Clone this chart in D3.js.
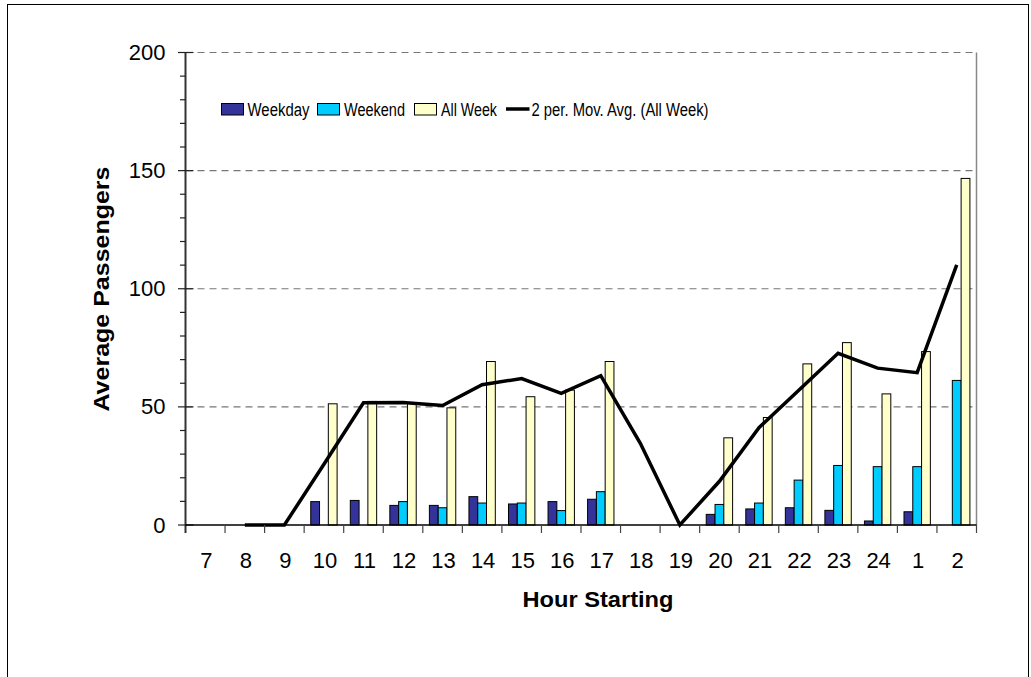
<!DOCTYPE html>
<html>
<head>
<meta charset="utf-8">
<script src="https://cdn.jsdelivr.net/npm/d3@7"></script>
<style>
  html, body { margin: 0; padding: 0; background: #fff; }
  svg { display: block; font-family: Arial, "Liberation Sans", sans-serif; }
</style>
</head>
<body>
<svg id="chart" width="1031" height="677"></svg>
<script>
const categories = ["7","8","9","10","11","12","13","14","15","16","17","18","19","20","21","22","23","24","1","2"];
const weekday = [null,null,null,9.9,10.4,8.3,8.3,12.0,8.9,9.9,10.9,null,null,4.5,6.8,7.3,6.2,1.7,5.6,null];
const weekend = [null,null,null,null,null,9.9,7.3,9.3,9.3,6.1,14.1,null,null,8.7,9.3,19.0,25.2,24.7,24.7,61.2];
const allWeek = [null,null,null,51.3,52.3,51.5,49.6,69.2,54.3,57.1,69.2,null,null,36.9,45.5,68.2,77.2,55.5,73.4,146.7];
const movAvg = [null,0,0,25.7,51.7,51.8,50.6,59.4,62.0,55.7,63.2,34.6,0,18.5,41.2,56.9,72.7,66.4,64.5,110.1];
const yTicks = [0,50,100,150,200];
const seriesNames = ["Weekday","Weekend","All Week"];
const seriesColors = ["#333399","#00CCFF","#FFFFCC"];
const lineLabel = "2 per. Mov. Avg. (All Week)";

(function () {
const svg = d3.select("#chart");

// outer chart border
svg.append("rect").attr("x",7.5).attr("y",4.5).attr("width",1021).attr("height",700)
  .attr("fill","none").attr("stroke","#000").attr("stroke-width",1);

const pLeft = 185.5, pRight = 976.5, pTop = 52.5, pBottom = 525;
const x = d3.scaleBand().domain(categories).range([pLeft, pRight]).padding(0);
const step = x.bandwidth();
const xs = d3.scaleBand().domain(seriesNames).range([step/6, step*5/6]).padding(0);
const y = d3.scaleLinear().domain([0,200]).range([pBottom, pTop]);

// gridlines
svg.append("g").selectAll("line").data(yTicks.filter(d => d > 0)).join("line")
  .attr("x1", pLeft).attr("x2", pRight)
  .attr("y1", d => y(d)).attr("y2", d => y(d))
  .attr("stroke","#777").attr("stroke-width",1.2).attr("stroke-dasharray","7,5");

// right plot border
svg.append("line").attr("x1",pRight).attr("x2",pRight).attr("y1",pTop).attr("y2",pBottom)
  .attr("stroke","#888").attr("stroke-width",1.5);

// bars
const seriesData = [weekday, weekend, allWeek];
seriesData.forEach((vals, si) => {
  svg.append("g").selectAll("rect")
    .data(vals.map((v,i) => ({v, c: categories[i]})).filter(d => d.v !== null))
    .join("rect")
    .attr("x", d => x(d.c) + xs(seriesNames[si]))
    .attr("width", xs.bandwidth())
    .attr("y", d => y(d.v))
    .attr("height", d => y(0) - y(d.v))
    .attr("fill", seriesColors[si])
    .attr("stroke","#000").attr("stroke-width",1);
});

// moving average line
const line = d3.line()
  .defined(d => d.v !== null)
  .x(d => x(d.c) + step/2)
  .y(d => y(d.v));
svg.append("path")
  .datum(movAvg.map((v,i) => ({v, c: categories[i]})))
  .attr("d", line)
  .attr("fill","none").attr("stroke","#000").attr("stroke-width",3.5)
  .attr("stroke-linejoin","miter");

// y axis
const yAxis = d3.axisLeft(y).tickValues(yTicks).tickSize(0).tickPadding(20);
const gy = svg.append("g").attr("transform",`translate(${pLeft},0)`).call(yAxis);
gy.select(".domain").remove();
gy.selectAll("text").attr("font-size",22).attr("font-family","Arial, 'Liberation Sans', sans-serif").attr("fill","#000");
svg.append("line").attr("x1",pLeft).attr("x2",pLeft).attr("y1",pTop).attr("y2",533)
  .attr("stroke","#333").attr("stroke-width",2);
// major ticks (crossing)
svg.append("g").selectAll("line").data(yTicks).join("line")
  .attr("x1", pLeft-7.5).attr("x2", pLeft+8)
  .attr("y1", d => y(d)).attr("y2", d => y(d))
  .attr("stroke","#222").attr("stroke-width",1.2);
// minor ticks
svg.append("g").selectAll("line").data(d3.range(0,201,10).filter(d => d % 50 !== 0)).join("line")
  .attr("x1", pLeft-5.5).attr("x2", pLeft)
  .attr("y1", d => y(d)).attr("y2", d => y(d))
  .attr("stroke","#222").attr("stroke-width",1.2);

// x axis
svg.append("line").attr("x1",pLeft).attr("x2",pRight).attr("y1",pBottom).attr("y2",pBottom)
  .attr("stroke","#000").attr("stroke-width",1.6);
const tickPos = categories.slice(1).map(c => x(c)).concat([pRight]);
svg.append("g").selectAll("line").data(tickPos).join("line")
  .attr("x1", d => d).attr("x2", d => d)
  .attr("y1", pBottom).attr("y2", 533)
  .attr("stroke","#444").attr("stroke-width",1.2);
svg.append("g").selectAll("text").data(categories).join("text")
  .attr("x", d => x(d) + step/2 + 1)
  .attr("y", 567.5)
  .attr("text-anchor","middle")
  .attr("font-size",22)
  .text(d => d);

// axis titles
svg.append("text").attr("x",598).attr("y",607).attr("text-anchor","middle")
  .attr("font-size",22).attr("font-weight","bold")
  .attr("textLength",151).attr("lengthAdjust","spacingAndGlyphs")
  .text("Hour Starting");
svg.append("text").attr("transform","translate(109,289) rotate(-90)")
  .attr("text-anchor","middle").attr("font-size",22).attr("font-weight","bold")
  .attr("textLength",245).attr("lengthAdjust","spacingAndGlyphs")
  .text("Average Passengers");

// legend
const legendItems = [
  {name: seriesNames[0], color: seriesColors[0], bx: 221, tx: 247.5, tw: 62},
  {name: seriesNames[1], color: seriesColors[1], bx: 317, tx: 344, tw: 61},
  {name: seriesNames[2], color: seriesColors[2], bx: 414, tx: 441, tw: 56}
];
const lg = svg.append("g");
legendItems.forEach(it => {
  lg.append("rect").attr("x",it.bx+0.5).attr("y",103.5).attr("width",22).attr("height",11.5)
    .attr("fill",it.color).attr("stroke","#000").attr("stroke-width",1);
  lg.append("text").attr("x",it.tx).attr("y",116).attr("font-size",18)
    .attr("textLength",it.tw).attr("lengthAdjust","spacingAndGlyphs").text(it.name);
});
lg.append("line").attr("x1",506).attr("x2",529.5).attr("y1",109).attr("y2",109)
  .attr("stroke","#000").attr("stroke-width",3.5);
lg.append("text").attr("x",531.5).attr("y",116).attr("font-size",18)
  .attr("textLength",177).attr("lengthAdjust","spacingAndGlyphs").text(lineLabel);
})();
</script>
</body>
</html>
